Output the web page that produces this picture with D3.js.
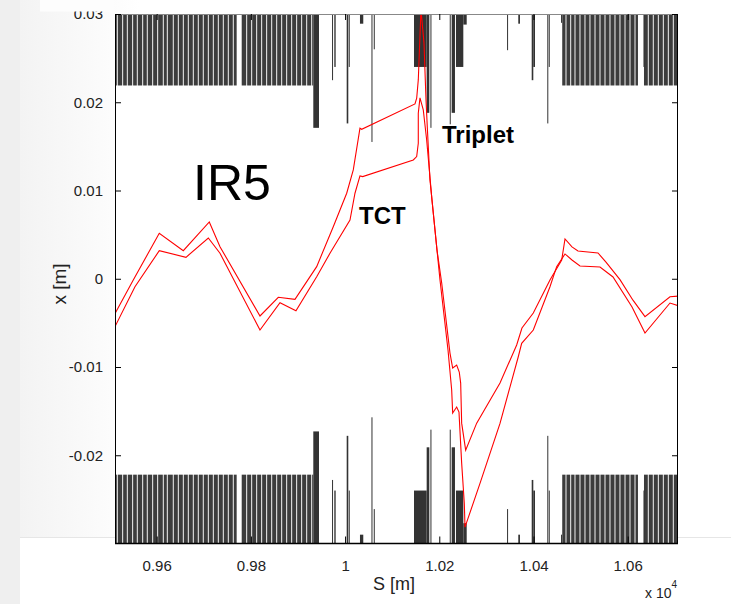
<!DOCTYPE html>
<html><head><meta charset="utf-8">
<script src="https://cdn.jsdelivr.net/npm/d3@7"></script>
<style>body{margin:0;background:#fff}svg{display:block}</style>
</head><body>
<svg id="c" width="731" height="604"></svg>
<script>
// ---------- data ----------
const xTicks = [9600, 9800, 10000, 10200, 10400, 10600];
const xTickLabels = ["0.96", "0.98", "1", "1.02", "1.04", "1.06"];
const yTicks = [-0.02, -0.01, 0, 0.01, 0.02, 0.03];
const yTickLabels = ["-0.02", "-0.01", "0", "0.01", "0.02", "0.03"];

// arc elements [s start, s end] (m), beam screen aperture
const arcElems = [
  [9505,9515.4],[9517.4,9526.8],[9528.8,9536.6],[9538.6,9548],[9550,9557.8],[9559.8,9569.3],
  [9571.3,9579],[9581,9590.5],[9592.5,9601.1],[9603.1,9613],[9615,9621.5],[9623.5,9634.2],
  [9636.2,9644.9],[9646.9,9655.5],[9657.5,9666.1],[9668.1,9676.7],[9678.7,9687.3],[9689.3,9697.9],
  [9699.9,9708.6],[9710.6,9719.2],[9721.2,9729.8],[9731.8,9740.4],[9742.4,9751],[9753,9761.6],
  [9763.6,9769.8],[9780.5,9790.1],[9792.1,9800.7],[9802.7,9811.3],[9813.3,9821.9],[9823.9,9832.5],
  [9834.5,9843.2],[9845.2,9853.8],[9855.8,9864.4],[9866.4,9875],[9877,9885.6],[9887.6,9896.2],
  [9898.2,9906.8],[9908.8,9917.5],[9919.5,9928.1],[9930.1,9932.5],
  [10461,10468],[10470,10478],[10480,10487.1],[10489.1,10497.7],[10499.7,10508.3],[10510.3,10518.9],
  [10520.9,10529.6],[10531.6,10540.2],[10542.2,10550.8],[10552.8,10561.4],[10563.4,10572],
  [10574,10582.6],[10584.6,10593.3],[10595.3,10603.9],[10605.9,10614.5],[10616.5,10621.8],
  [10634.6,10642.7],[10644.7,10653.3],[10655.3,10664],[10666,10674.6],[10676.6,10685.2],
  [10687.2,10695.8],[10697.8,10712]
];
const arcApTop = 0.0219;
const arcApBot = -0.0222;

// insertion-region elements
const irS0    = [9932.5, 9972.3, 9977.1, 10003.4, 10007.8, 10031.6, 10056, 10060.9, 10146.3, 10173.2, 10181.2, 10222.2, 10226.3, 10235.4, 10251, 10343.9, 10367.7, 10396.2, 10399.6, 10429.3, 10432.4, 10458.5, 10633.5];
const irS1    = [9944.6, 9973.3, 9980, 10006.8, 10008.8, 10038.6, 10057, 10061.9, 10173.2, 10178.8, 10182.2, 10223.2, 10233.3, 10251, 10258.2, 10344.9, 10371.3, 10399.6, 10403.2, 10431.4, 10433.4, 10460, 10634.6];
const irApTop = [0.0171, 0.0225, 0.024, 0.0176, 0.024, 0.0289, 0.0155, 0.026, 0.024, 0.0188, 0.0171, 0.0175, 0.0188, 0.024, 0.0288, 0.0259, 0.0289, 0.0225, 0.024, 0.0176, 0.024, 0.029, 0.024];
const irApBot = [-0.0173, -0.0228, -0.024, -0.0178, -0.024, -0.029, -0.0157, -0.0261, -0.024, -0.0191, -0.0171, -0.0171, -0.0191, -0.024, -0.0277, -0.0261, -0.029, -0.0228, -0.024, -0.0178, -0.024, -0.029, -0.024];

// closed-orbit curves
const orbitUpperS = [9507.9, 9550.3, 9605.5, 9656.5, 9711.7, 9734.4, 9819.3, 9858.2, 9893.6, 9939.7, 9974.9, 10003.4, 10017.4, 10031.6, 10035.2, 10148.4, 10152, 10155.4, 10161.1, 10167.5, 10171.8, 10174.5, 10180.2, 10195.1, 10205.1, 10222.7, 10228.4, 10236.9, 10242.4, 10245.4, 10247.5, 10256, 10279.4, 10328.9, 10364.3, 10375.5, 10399.6, 10435, 10459.9, 10466.9, 10481.7, 10494.4, 10536.9, 10553.9, 10583.6, 10611.2, 10636.7, 10689.8, 10709.5];
const orbitUpperX = [-0.0043, -0.00014, 0.00515, 0.00318, 0.00643, 0.00363, -0.00422, -0.0021, -0.00233, 0.00137, 0.0059, 0.00969, 0.01233, 0.01706, 0.01694, 0.01981, 0.02046, 0.02253, 0.0305, 0.02673, 0.02027, 0.01721, 0.0112, 0.00326, -0.00048, -0.00842, -0.01012, -0.00978, -0.01057, -0.01182, -0.01636, -0.01942, -0.01636, -0.01182, -0.0075, -0.00558, -0.00388, -0.00014, 0.00213, 0.00451, 0.00361, 0.00315, 0.00292, 0.00189, -0.0001, -0.00243, -0.0043, -0.00204, -0.00196];
const orbitLowerS = [9507.9, 9553.9, 9605.5, 9662.2, 9709.6, 9734.4, 9819.3, 9861.8, 9895.7, 9939.7, 9967.9, 10010.4, 10021, 10031.6, 10037.4, 10144.8, 10152, 10155.4, 10155.4, 10159, 10166, 10173.2, 10184.5, 10201.5, 10218.5, 10226.3, 10228.4, 10236.9, 10241.8, 10247.5, 10253.1, 10254.6, 10286.4, 10328.9, 10367.7, 10374.9, 10399.6, 10435, 10449.2, 10466.9, 10481.7, 10498.7, 10541.2, 10568.8, 10609.2, 10636.7, 10689.8, 10708.9];
const orbitLowerX = [-0.00581, -0.0009, 0.00318, 0.00243, 0.00462, 0.00289, -0.00581, -0.00272, -0.00362, 0.00023, 0.00289, 0.00666, 0.00969, 0.01165, 0.01157, 0.01346, 0.01384, 0.01536, 0.01876, 0.02049, 0.01913, 0.01573, 0.00893, -0.00014, -0.00808, -0.01261, -0.01522, -0.01454, -0.01511, -0.02089, -0.02543, -0.02815, -0.02319, -0.01639, -0.00884, -0.00732, -0.00581, -0.0009, 0.00137, 0.00281, 0.00213, 0.00145, 0.00133, 0.0002, -0.0032, -0.00615, -0.00275, -0.00309];

// ---------- drawing ----------
const svg = d3.select("#c");
const W = 731, H = 604;
const L = 115, R = 678, T = 14, B = 543.5;
const x = d3.scaleLinear().domain([9511.5, 10706.8]).range([L, R]);
const y = d3.scaleLinear().domain([-0.03, 0.03]).range([B, T]);
const FONT = "'Liberation Sans', Arial, sans-serif";

// slide background
const defs = svg.append("defs");
const g1 = defs.append("linearGradient").attr("id", "lg").attr("x1", 0).attr("x2", 1).attr("y1", 0).attr("y2", 0);
g1.append("stop").attr("offset", 0).attr("stop-color", "#f3f3f3");
g1.append("stop").attr("offset", 1).attr("stop-color", "#ffffff");
svg.append("rect").attr("x", 0).attr("y", 0).attr("width", W).attr("height", H).attr("fill", "#ffffff");
svg.append("rect").attr("x", 20).attr("y", 0).attr("width", 120).attr("height", 537).attr("fill", "url(#lg)");
svg.append("rect").attr("x", 0).attr("y", 0).attr("width", 20).attr("height", H).attr("fill", "#efefef");
svg.append("line").attr("x1", 20).attr("x2", W).attr("y1", 537.5).attr("y2", 537.5).attr("stroke", "#e6e6e6");

// plot area
svg.append("rect").attr("x", L).attr("y", T).attr("width", R - L).attr("height", B - T).attr("fill", "#fff");
defs.append("clipPath").attr("id", "clip").append("rect").attr("x", L).attr("y", T).attr("width", R - L).attr("height", B - T);
const plot = svg.append("g").attr("clip-path", "url(#clip)");

// arc beam screen bars
const arcG = plot.append("g");
arcElems.forEach(([s0, s1]) => {
  const x0 = x(s0), w = Math.max(1, x(s1) - x0);
  arcG.append("rect").attr("x", x0).attr("y", T).attr("width", w).attr("height", y(arcApTop) - T)
    .attr("fill", "#3c3c3c");
  arcG.append("rect").attr("x", x0).attr("y", y(arcApBot)).attr("width", w).attr("height", B - y(arcApBot))
    .attr("fill", "#3c3c3c");
});
// IR elements
const irG = plot.append("g");
irS0.forEach((s0, i) => {
  const x0 = x(s0), w = Math.max(1, x(irS1[i]) - x0);
  irG.append("rect").attr("x", x0).attr("y", T).attr("width", w).attr("height", y(irApTop[i]) - T)
    .attr("fill", "#333");
  irG.append("rect").attr("x", x0).attr("y", y(irApBot[i])).attr("width", w).attr("height", B - y(irApBot[i]))
    .attr("fill", "#333");
});

// orbits
const line = d3.line().x(d => x(d[0])).y(d => y(d[1]));
plot.append("path").attr("d", line(orbitUpperS.map((s, i) => [s, orbitUpperX[i]])))
  .attr("fill", "none").attr("stroke", "#ff0000").attr("stroke-width", 1.1);
plot.append("path").attr("d", line(orbitLowerS.map((s, i) => [s, orbitLowerX[i]])))
  .attr("fill", "none").attr("stroke", "#ff0000").attr("stroke-width", 1.1);

// frame
svg.append("line").attr("x1", L).attr("x2", R).attr("y1", T + 0.5).attr("y2", T + 0.5).attr("stroke", "#888");
svg.append("line").attr("x1", L).attr("x2", R).attr("y1", B).attr("y2", B).attr("stroke", "#000").attr("stroke-width", 1.6);
svg.append("line").attr("x1", L + 0.5).attr("x2", L + 0.5).attr("y1", T).attr("y2", B).attr("stroke", "#000");
svg.append("line").attr("x1", R - 0.5).attr("x2", R - 0.5).attr("y1", T).attr("y2", B).attr("stroke", "#000");

// axes with inward ticks
const yAxisL = d3.axisLeft(y).tickValues(yTicks).tickSize(-6).tickPadding(6 + 6)
  .tickFormat((d, i) => yTickLabels[i]);
const yAxisR = d3.axisRight(y).tickValues(yTicks).tickSize(-6).tickFormat("");
const xAxisB = d3.axisBottom(x).tickValues(xTicks).tickSize(-7).tickPadding(7 + 10)
  .tickFormat((d, i) => xTickLabels[i]);
const xAxisT = d3.axisTop(x).tickValues(xTicks).tickSize(-6).tickFormat("");
function style(g) {
  g.select(".domain").remove();
  g.selectAll(".tick line").attr("stroke", "#000");
  g.selectAll(".tick text").attr("font-family", FONT).attr("font-size", 15).attr("fill", "#222");
}
svg.append("g").attr("transform", `translate(${L},0)`).call(yAxisL).call(style);
svg.append("g").attr("transform", `translate(${R},0)`).call(yAxisR).call(style);
svg.append("g").attr("transform", `translate(0,${B})`).call(xAxisB).call(style);
svg.append("g").attr("transform", `translate(0,${T})`).call(xAxisT).call(style);

// cut-off top of figure (the 0.03 label is partly hidden)
svg.append("rect").attr("x", 40).attr("y", 0).attr("width", L - 41).attr("height", 11.5).attr("fill", "#fdfdfd");

// labels
svg.append("text").attr("x", 394).attr("y", 590).attr("text-anchor", "middle")
  .attr("font-family", FONT).attr("font-size", 18).attr("fill", "#222").text("S [m]");
svg.append("text").attr("transform", "translate(66,284) rotate(-90)").attr("text-anchor", "middle")
  .attr("font-family", FONT).attr("font-size", 19).attr("fill", "#222").text("x [m]");
const xl = svg.append("text").attr("x", 645).attr("y", 598).attr("font-family", FONT).attr("font-size", 14).attr("fill", "#222");
xl.append("tspan").text("x 10");
xl.append("tspan").attr("font-size", 10).attr("dy", -10).text("4");

svg.append("text").attr("x", 193).attr("y", 200).attr("font-family", FONT).attr("font-size", 50).attr("fill", "#000").text("IR5");
svg.append("text").attr("x", 359).attr("y", 223.5).attr("font-family", FONT).attr("font-weight", "bold").attr("font-size", 24).attr("fill", "#000").text("TCT");
svg.append("text").attr("x", 442).attr("y", 143).attr("font-family", FONT).attr("font-weight", "bold").attr("font-size", 24).attr("fill", "#000").text("Triplet");
</script>
</body></html>
